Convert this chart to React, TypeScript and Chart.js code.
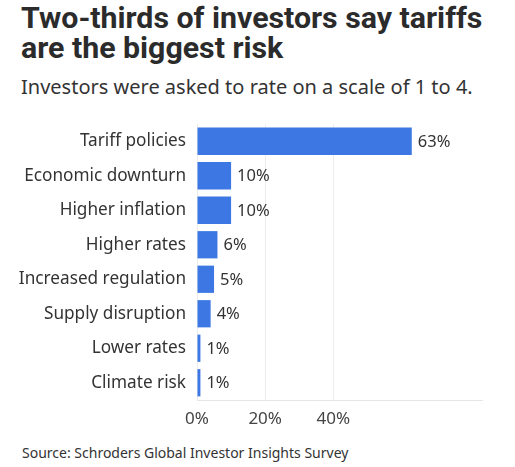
import React, { useEffect, useRef } from 'react';
import { Chart, registerables, Plugin } from 'chart.js';

Chart.register(...registerables);

const categories = [
  'Tariff policies',
  'Economic downturn',
  'Higher inflation',
  'Higher rates',
  'Increased regulation',
  'Supply disruption',
  'Lower rates',
  'Climate risk',
];
const shares = [63, 10, 10, 6, 5, 4, 1, 1];
const tickValues = [0, 20, 40];

const FONT = '"Noto Sans", sans-serif';
const BAR_BLUE = '#3c77e4';
const TEXT = '#333333';

// draws "63%" etc. just right of each bar end
const valueLabels: Plugin<'bar'> = {
  id: 'valueLabels',
  afterDatasetsDraw(chart) {
    const { ctx } = chart;
    const meta = chart.getDatasetMeta(0);
    ctx.save();
    ctx.font = `16.5px ${FONT}`;
    ctx.fillStyle = TEXT;
    ctx.textAlign = 'left';
    ctx.textBaseline = 'middle';
    meta.data.forEach((bar, i) => {
      const { x, y } = bar.getProps(['x', 'y'], true);
      ctx.fillText(`${shares[i]}%`, x + 6, y + 1);
    });
    ctx.restore();
  },
};

const App: React.FC = () => {
  const canvasRef = useRef<HTMLCanvasElement>(null);

  useEffect(() => {
    if (!canvasRef.current) return;
    const chart = new Chart(canvasRef.current, {
      type: 'bar',
      data: {
        labels: categories,
        datasets: [
          {
            data: shares,
            backgroundColor: BAR_BLUE,
            barPercentage: 0.79,
            categoryPercentage: 1,
          },
        ],
      },
      options: {
        indexAxis: 'y',
        animation: false,
        responsive: true,
        maintainAspectRatio: false,
        layout: { padding: { top: 14, right: 33, bottom: 0, left: 0 } },
        plugins: {
          legend: { display: false },
          tooltip: { enabled: false },
        },
        scales: {
          x: {
            min: 0,
            max: 83.6,
            afterBuildTicks: (scale) => {
              scale.ticks = tickValues.map((v) => ({ value: v }));
            },
            afterFit: (scale) => {
              scale.height = 30;
              scale.paddingLeft = 0;
              scale.paddingRight = 0;
            },
            grid: { color: '#ececec', drawTicks: false },
            border: { color: '#e6e6e6' },
            ticks: {
              padding: 9,
              color: '#444',
              font: { family: FONT, size: 17 },
              callback: (v) => `${v}%`,
            },
          },
          y: {
            afterFit: (scale) => {
              scale.width = 197;
              scale.paddingTop = 0;
              scale.paddingBottom = 0;
            },
            grid: { display: false, drawTicks: false },
            border: { display: false },
            ticks: {
              padding: 11,
              color: TEXT,
              font: { family: FONT, size: 17.2 },
            },
          },
        },
      },
      plugins: [valueLabels],
    });
    return () => chart.destroy();
  }, []);

  return (
    <div
      style={{
        position: 'absolute',
        left: 0,
        top: 0,
        width: 515,
        height: 467,
        background: '#fff',
        fontFamily: FONT,
        color: TEXT,
      }}
    >
      <div
        style={{
          position: 'absolute',
          left: 21,
          top: 3,
          fontFamily: 'Roboto, sans-serif',
          fontSize: 30.3,
          fontWeight: 700,
          lineHeight: '30px',
          color: '#2b2b2b',
          whiteSpace: 'nowrap',
        }}
      >
        Two-thirds of investors say tariffs
        <br />
        are the biggest risk
      </div>
      <div
        style={{
          position: 'absolute',
          left: 21,
          top: 73,
          fontSize: 20,
          whiteSpace: 'nowrap',
          color: '#333',
        }}
      >
        Investors were asked to rate on a scale of 1 to 4.
      </div>
      <div style={{ position: 'absolute', left: 0, top: 110, width: 515, height: 320 }}>
        <canvas ref={canvasRef}></canvas>
      </div>
      <div
        style={{
          position: 'absolute',
          left: 22,
          top: 443,
          fontSize: 14,
          whiteSpace: 'nowrap',
          color: '#333',
        }}
      >
        Source: Schroders Global Investor Insights Survey
      </div>
    </div>
  );
};

export default App;
